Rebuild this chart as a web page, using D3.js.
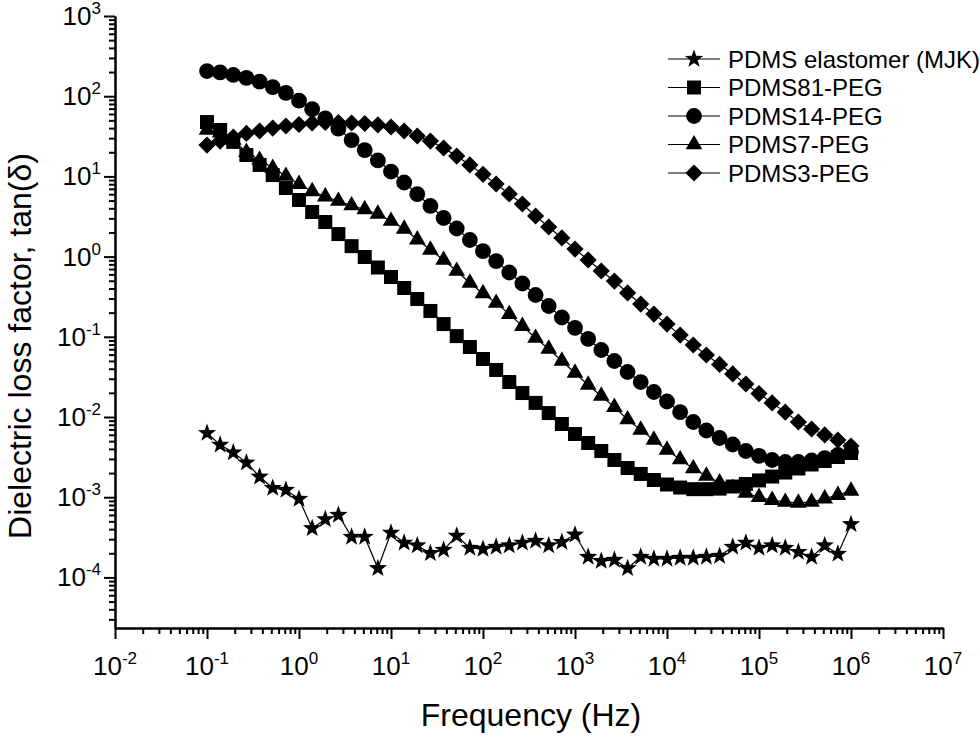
<!DOCTYPE html>
<html lang="en">

<head>
    <meta charset="UTF-8"/>
    <title>Dielectric loss factor</title>

    <script src="https://d3js.org/d3.v7.min.js" charset="utf-8"></script>

    <style type="text/css">
        body {
            margin: 0;
            background: #fff;
        }

        text {
            font-family: Arial, "Liberation Sans", sans-serif;
            fill: #000;
        }

        .axis path,
        .axis line {
            fill: none;
            stroke: #000;
            stroke-width: 2px;
        }

        path.line {
            fill: none;
            stroke: #000;
            stroke-width: 1.2px;
        }

        path.mark {
            fill: #000;
            stroke: none;
        }
    </style>
</head>

<body>
<div id="chart"></div>
<script type="text/javascript">
    // frequencies (Hz), 7 points per decade, 0.1 Hz .. 1 MHz
    var freq = [
        0.1, 0.139, 0.193, 0.268, 0.373, 0.518, 0.72,
        1, 1.39, 1.93, 2.68, 3.73, 5.18, 7.2,
        10, 13.9, 19.3, 26.8, 37.3, 51.8, 72,
        100, 139, 193, 268, 373, 518, 720,
        1e3, 1.39e3, 1.93e3, 2.68e3, 3.73e3, 5.18e3, 7.2e3,
        1e4, 1.39e4, 1.93e4, 2.68e4, 3.73e4, 5.18e4, 7.2e4,
        1e5, 1.39e5, 1.93e5, 2.68e5, 3.73e5, 5.18e5, 7.2e5,
        1e6
    ];

    var seriesNames = ["PDMS elastomer (MJK)", "PDMS81-PEG", "PDMS14-PEG", "PDMS7-PEG", "PDMS3-PEG"];

    // tan(delta)
    var tanElastomer = [
        6.3e-3, 4.5e-3, 3.6e-3, 2.7e-3, 1.8e-3, 1.3e-3, 1.23e-3, 9.5e-4, 4.1e-4, 5.3e-4,
        6.0e-4, 3.2e-4, 3.2e-4, 1.3e-4, 3.6e-4, 2.7e-4, 2.5e-4, 2.0e-4, 2.2e-4, 3.3e-4,
        2.33e-4, 2.26e-4, 2.4e-4, 2.5e-4, 2.7e-4, 2.85e-4, 2.5e-4, 2.76e-4, 3.4e-4, 1.8e-4,
        1.6e-4, 1.65e-4, 1.3e-4, 1.8e-4, 1.7e-4, 1.7e-4, 1.75e-4, 1.75e-4, 1.8e-4, 1.85e-4,
        2.4e-4, 2.7e-4, 2.33e-4, 2.5e-4, 2.33e-4, 2.07e-4, 1.8e-4, 2.5e-4, 1.96e-4, 4.6e-4
    ];
    var tanPeg81 = [
        47.6, 37.9, 26.9, 18.5, 13.9, 10.4, 7.16, 5.08, 3.6, 2.7,
        1.91, 1.35, 0.989, 0.731, 0.557, 0.406, 0.296, 0.21, 0.144, 0.102,
        0.0746, 0.0529, 0.0386, 0.0273, 0.0199, 0.015, 0.0112, 0.00818, 0.00614, 0.00474,
        0.00377, 0.00291, 0.00231, 0.00195, 0.00164, 0.00144, 0.00132, 0.00126, 0.00126, 0.00128,
        0.00136, 0.00146, 0.00162, 0.00181, 0.00203, 0.00228, 0.00256, 0.00283, 0.00317, 0.00356
    ];
    var tanPeg14 = [
        206, 198, 184, 169, 152, 130, 110, 88, 69, 53,
        39.5, 28.4, 21.3, 15.8, 11.5, 8.4, 6.0, 4.28, 3.03, 2.24,
        1.61, 1.17, 0.88, 0.634, 0.462, 0.332, 0.242, 0.174, 0.129, 0.094,
        0.0685, 0.0499, 0.0364, 0.0273, 0.0205, 0.0156, 0.0115, 0.00866, 0.00679, 0.00547,
        0.00454, 0.00377, 0.00327, 0.00291, 0.00275, 0.00275, 0.00287, 0.00308, 0.00336, 0.00366
    ];
    var tanPeg7 = [
        38, 35, 28.5, 20.1, 16, 12.7, 10.1, 8.0, 6.5, 5.6,
        4.93, 4.33, 3.87, 3.4, 2.78, 2.21, 1.63, 1.21, 0.907, 0.661,
        0.469, 0.347, 0.264, 0.192, 0.136, 0.0966, 0.0705, 0.05, 0.0354, 0.0251,
        0.0183, 0.0133, 0.0093, 0.0069, 0.00517, 0.00388, 0.00295, 0.00228, 0.00184, 0.00152,
        0.0013, 0.00113, 0.001, 0.00092, 0.00087, 0.00085, 0.00087, 0.00096, 0.00106, 0.0012
    ];
    var tanPeg3 = [
        24.6, 27.6, 31, 34.3, 36.8, 40.1, 42.5, 44.4, 46.3, 47,
        47, 46.3, 45.7, 43.8, 41.3, 36.8, 31.9, 27.6, 22.6, 17.9,
        13.9, 10.6, 8.04, 6.04, 4.53, 3.21, 2.34, 1.71, 1.24, 0.908,
        0.661, 0.496, 0.352, 0.256, 0.192, 0.144, 0.105, 0.079, 0.0593, 0.0452,
        0.0344, 0.0258, 0.0196, 0.015, 0.0115, 0.00866, 0.00709, 0.00597, 0.00517, 0.00435
    ];

    // tick label exponents
    var xExponents = [-2, -1, 0, 1, 2, 3, 4, 5, 6, 7];
    var yExponents = [-4, -3, -2, -1, 0, 1, 2, 3];

    var width = 980, height = 737;
    var plotLeft = 115, plotRight = 943, plotTop = 16, plotBottom = 628;

    var svg = d3.select("#chart")
        .append("svg")
        .attr("width", width)
        .attr("height", height);

    var x = d3.scaleLog().domain([1e-2, 1e7]).range([plotLeft, plotRight]);
    var y = d3.scaleLog().domain([2.34e-5, 1e3]).range([plotBottom, plotTop]);

    // minor ticks (2..9 x 10^n)
    function minorTicks(lo, hi, dom) {
        var t = [];
        for (var n = lo; n <= hi; n++) {
            for (var k = 2; k <= 9; k++) {
                var v = k * Math.pow(10, n);
                if (v >= dom[0] && v <= dom[1]) t.push(v);
            }
        }
        return t;
    }
    var xMajor = xExponents.map(function (e) { return Math.pow(10, e); });
    var yMajor = yExponents.map(function (e) { return Math.pow(10, e); });

    // X axis
    svg.append("g")
        .attr("class", "axis")
        .attr("transform", "translate(0," + plotBottom + ")")
        .call(d3.axisBottom(x).tickValues(minorTicks(-2, 6, x.domain())).tickSize(6).tickSizeOuter(0).tickFormat(""));
    svg.append("g")
        .attr("class", "axis")
        .attr("transform", "translate(0," + plotBottom + ")")
        .call(d3.axisBottom(x).tickValues(xMajor).tickSize(11).tickSizeOuter(0).tickFormat(""));

    // Y axis
    svg.append("g")
        .attr("class", "axis")
        .attr("transform", "translate(" + plotLeft + ",0)")
        .call(d3.axisLeft(y).tickValues(minorTicks(-5, 2, y.domain())).tickSize(6).tickSizeOuter(0).tickFormat(""));
    svg.append("g")
        .attr("class", "axis")
        .attr("transform", "translate(" + plotLeft + ",0)")
        .call(d3.axisLeft(y).tickValues(yMajor).tickSize(11).tickSizeOuter(0).tickFormat(""));

    // tick labels as 10 with superscript
    function powerLabel(sel) {
        sel.append("tspan").text("10");
        sel.append("tspan")
            .attr("dy", -11)
            .style("font-size", "17px")
            .text(function (d) { return d; });
    }

    svg.append("g").selectAll("text")
        .data(xExponents)
        .enter()
        .append("text")
        .attr("x", function (d) { return x(Math.pow(10, d)); })
        .attr("y", 675)
        .attr("text-anchor", "middle")
        .style("font-size", "26px")
        .call(powerLabel);

    svg.append("g").selectAll("text")
        .data(yExponents)
        .enter()
        .append("text")
        .attr("x", 101)
        .attr("y", function (d) { return y(Math.pow(10, d)) + 9; })
        .attr("text-anchor", "end")
        .style("font-size", "26px")
        .call(powerLabel);

    // axis titles
    svg.append("text")
        .attr("x", 531)
        .attr("y", 726)
        .attr("text-anchor", "middle")
        .style("font-size", "32px")
        .text("Frequency (Hz)");

    svg.append("text")
        .attr("transform", "translate(31,346) rotate(-90)")
        .attr("text-anchor", "middle")
        .style("font-size", "32px")
        .text("Dielectric loss factor, tan(\u03b4)");

    // marker shapes
    function starPath(R, r) {
        var p = [];
        for (var i = 0; i < 10; i++) {
            var a = -Math.PI / 2 + i * Math.PI / 5;
            var rad = i % 2 === 0 ? R : r;
            p.push([rad * Math.cos(a), rad * Math.sin(a)]);
        }
        return "M" + p.map(function (q) { return q[0].toFixed(2) + "," + q[1].toFixed(2); }).join("L") + "Z";
    }
    var shapes = [
        starPath(9.6, 3.9),
        d3.symbol(d3.symbolSquare, 14 * 14)(),
        d3.symbol(d3.symbolCircle, Math.PI * 7.9 * 7.9)(),
        d3.symbol(d3.symbolTriangle, 120)(),
        "M0,-8.6L8.6,0L0,8.6L-8.6,0Z"
    ];

    var allSeries = [tanElastomer, tanPeg81, tanPeg14, tanPeg7, tanPeg3];

    var line = d3.line()
        .x(function (d) { return x(d[0]); })
        .y(function (d) { return y(d[1]); });

    allSeries.forEach(function (vals, s) {
        var pts = freq.map(function (f, i) { return [f, vals[i]]; });
        var g = svg.append("g");
        g.append("path")
            .datum(pts)
            .attr("class", "line")
            .attr("d", line);
        g.selectAll("path.mark")
            .data(pts)
            .enter()
            .append("path")
            .attr("class", "mark")
            .attr("d", shapes[s])
            .attr("transform", function (d) { return "translate(" + x(d[0]) + "," + y(d[1]) + ")"; });
    });

    // legend
    var legend = svg.append("g").selectAll("g")
        .data(seriesNames)
        .enter()
        .append("g")
        .attr("transform", function (d, i) { return "translate(0," + (59 + i * 28.5) + ")"; });

    legend.append("line")
        .attr("x1", 668).attr("x2", 720)
        .attr("y1", 0).attr("y2", 0)
        .style("stroke", "#000")
        .style("stroke-width", "1.2px");

    legend.append("path")
        .attr("class", "mark")
        .attr("d", function (d, i) { return shapes[i]; })
        .attr("transform", "translate(694,0)");

    legend.append("text")
        .attr("x", 728)
        .attr("y", 8.5)
        .style("font-size", "24px")
        .text(function (d) { return d; });
</script>
</body>

</html>
